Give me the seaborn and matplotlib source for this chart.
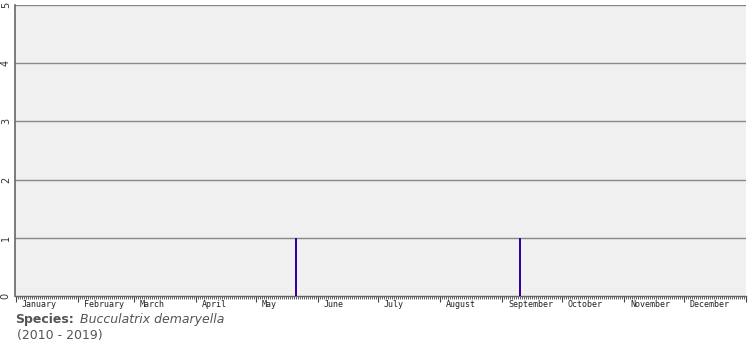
import matplotlib
matplotlib.use("Agg")
import matplotlib.pyplot as plt
import seaborn as sns
import numpy as np
import pandas as pd

# Data
months = ["January", "February", "March", "April", "May", "June",
          "July", "August", "September", "October", "November", "December"]
month_days = [31, 28, 31, 30, 31, 30, 31, 31, 30, 31, 30, 31]
record_days = [140, 252]       # day of year (0-based) with records
record_counts = [1, 1]
y_ticks = [0, 1, 2, 3, 4, 5]
species = "Bucculatrix demaryella"
years = "(2010 - 2019)"

sns.set_theme(style="white")
plt.rcParams['font.family'] = ['DejaVu Sans']

W, H = 755, 350
fig = plt.figure(figsize=(W / 100, H / 100), dpi=100)
ax = fig.add_axes([15 / W, (H - 296) / H, 731 / W, 291 / H])
ax.set_facecolor("#f0f0f0")

df = pd.DataFrame({"day": record_days, "count": record_counts})

sns.barplot(data=df, x="day", y="count", native_scale=True,
            width=0.6 / (record_days[1] - record_days[0]),
            color="#3300a0", saturation=1, linewidth=0, ax=ax, zorder=3)

ax.set_xlim(-0.5, 365)
ax.set_ylim(0, 5)

# grid
for yv in y_ticks[1:]:
    ax.axhline(yv, color="#888888", lw=1.0, zorder=2)

starts = np.concatenate([[0], np.cumsum(month_days)])
ax.set_xticks(starts)
ax.set_xticklabels([])
ax.set_xticks(np.arange(0, 366, 1), minor=True)
ax.tick_params(axis="x", which="both", bottom=True)
ax.tick_params(axis="x", which="major", length=4, width=0.8, color="#444444", direction="out")
ax.tick_params(axis="x", which="minor", length=2, width=0.6, color="#444444", direction="out")
for s, m in zip(starts[:-1], months):
    ax.text(s + 3, -0.07, m, ha="left", va="top", fontsize=6, color="#222222",
            transform=ax.transData, family="DejaVu Sans Mono")

ax.set_yticks(y_ticks)
ax.set_yticklabels([str(v) for v in y_ticks], rotation=90, va="center", fontsize=7, color="#333333")
ax.tick_params(axis="y", length=0, pad=3)
ax.set_xlabel("")
ax.set_ylabel("")

for sp in ["top", "right"]:
    ax.spines[sp].set_visible(False)
ax.spines["left"].set_color("#666666")
ax.spines["left"].set_linewidth(1.2)
ax.spines["bottom"].set_color("#666666")
ax.spines["bottom"].set_linewidth(1.0)

fig.text(15 / W, 1 - 320 / H, "Species:", fontsize=9, fontweight="bold", color="#555555",
         ha="left", va="center")
fig.text(80 / W, 1 - 320 / H, species, fontsize=9, style="italic", color="#555555",
         ha="left", va="center")
fig.text(17 / W, 1 - 335 / H, years, fontsize=9, color="#555555", ha="left", va="center")

fig.savefig("out.png", dpi=100)
